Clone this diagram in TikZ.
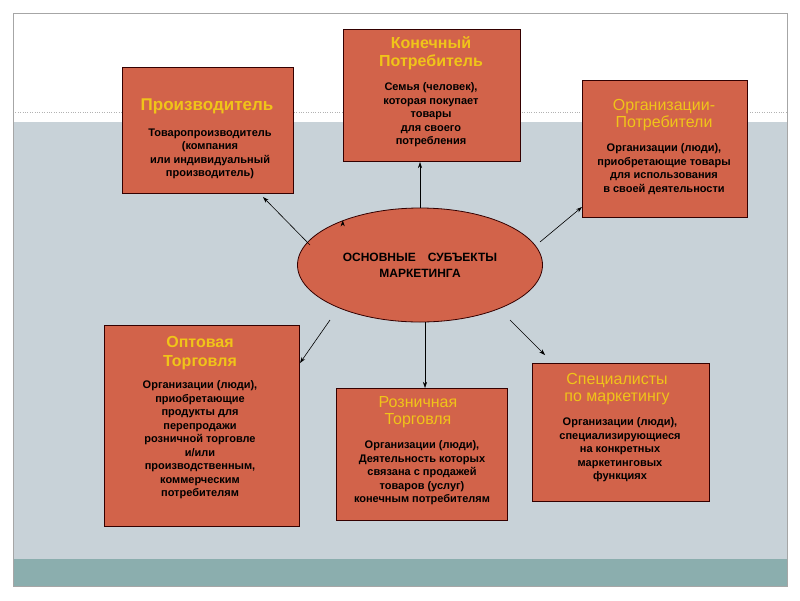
\documentclass[tikz,border=0pt]{standalone}
\usepackage{fontspec}
\setmainfont{Liberation Sans}
\usetikzlibrary{shapes.geometric,arrows.meta}
\definecolor{boxfill}{HTML}{D2634A}
\definecolor{ttl}{HTML}{F0C419}
\definecolor{bgg}{HTML}{C8D2D8}
\definecolor{teal}{HTML}{8BAEAE}
\tikzset{x=1pt,y=-1pt,
 bx/.style={draw=black!80!red,line width=0.8pt,fill=boxfill,inner sep=0pt},
 tt/.style={text=ttl,font=\fontsize{16}{17}\selectfont,align=center},
 bd/.style={font=\bfseries\fontsize{11}{13.5}\selectfont,align=center,text=black},
 ar/.style={-{Stealth[length=6pt,width=4pt]},line width=0.6pt}}
\begin{document}
\begin{tikzpicture}
\useasboundingbox (0,0) rectangle (800,600);
\fill[white] (0,0) rectangle (800,600);
\fill[bgg] (13,122) rectangle (787,559);
\fill[teal] (13,559) rectangle (787,586);
\draw[gray!60,dotted] (13,112) -- (787,112);
\draw[gray!70,line width=0.7pt] (13,13) rectangle (787,586);
% boxes
\draw[bx] (122,67) rectangle (293,193);
\node[tt,font=\bfseries\fontsize{17}{18}\selectfont] (p1) at (207,106) {Производитель};
\node[bd,anchor=north] (p2) at (210,125) {Товаропроизводитель\\(компания\\или индивидуальный\\производитель)};
\draw[bx] (343,29) rectangle (520,161);
\node[tt,font=\bfseries\fontsize{16}{18}\selectfont,anchor=north] (k1) at (431,33) {Конечный\\Потребитель};
\node[bd,anchor=north] (k2) at (431,79) {Семья (человек),\\которая покупает\\товары\\для своего\\потребления};
\draw[bx] (582,80) rectangle (747,217);
\node[tt,anchor=north] (o1) at (664,96) {Организации-\\Потребители};
\node[bd,anchor=north] (o2) at (664,140) {Организации (люди),\\приобретающие товары\\для использования\\в своей деятельности};
\draw[bx] (104,325) rectangle (299,526);
\node[tt,font=\bfseries\fontsize{16}{19}\selectfont,anchor=north] (w1) at (200,333) {Оптовая\\Торговля};
\node[bd,anchor=north] (w2) at (200,377) {Организации (люди),\\приобретающие\\продукты для\\перепродажи\\розничной торговле\\и/или\\производственным,\\коммерческим\\потребителям};
\draw[bx] (336,388) rectangle (507,520);
\node[tt,anchor=north] (r1) at (418,393) {Розничная\\Торговля};
\node[bd,anchor=north] (r2) at (422,437) {Организации (люди),\\Деятельность которых\\связана с продажей\\товаров (услуг)\\конечным потребителям};
\draw[bx] (532,363) rectangle (709,501);
\node[tt,anchor=north] (s1) at (617,370) {Специалисты\\по маркетингу};
\node[bd,anchor=north] (s2) at (620,414) {Организации (люди),\\специализирующиеся\\на конкретных\\маркетинговых\\функциях};
% ellipse
\node[ellipse,draw=black!80!red,line width=0.8pt,fill=boxfill,minimum width=245pt,minimum height=114pt,font=\bfseries\fontsize{12}{16}\selectfont,align=center] (e) at (420,265) {ОСНОВНЫЕ\quad СУБЪЕКТЫ\\МАРКЕТИНГА};
\coordinate (a1) at (263,197); \coordinate (a2) at (420,162);
\coordinate (a3) at (582,207); \coordinate (a4) at (300,363);
\coordinate (a5) at (425,388); \coordinate (a6) at (545,355);
\draw[ar] (e.150) ++(0,0) coordinate (b1); \draw[ar] (310,245) -- (a1);
\draw[ar] (e.north) -- (a2);
\draw[ar] (540,242) -- (a3);
\draw[ar] (330,320) -- (a4);
\draw[ar] (425,322) -- (a5);
\draw[ar] (510,320) -- (a6);
\end{tikzpicture}
\end{document}
